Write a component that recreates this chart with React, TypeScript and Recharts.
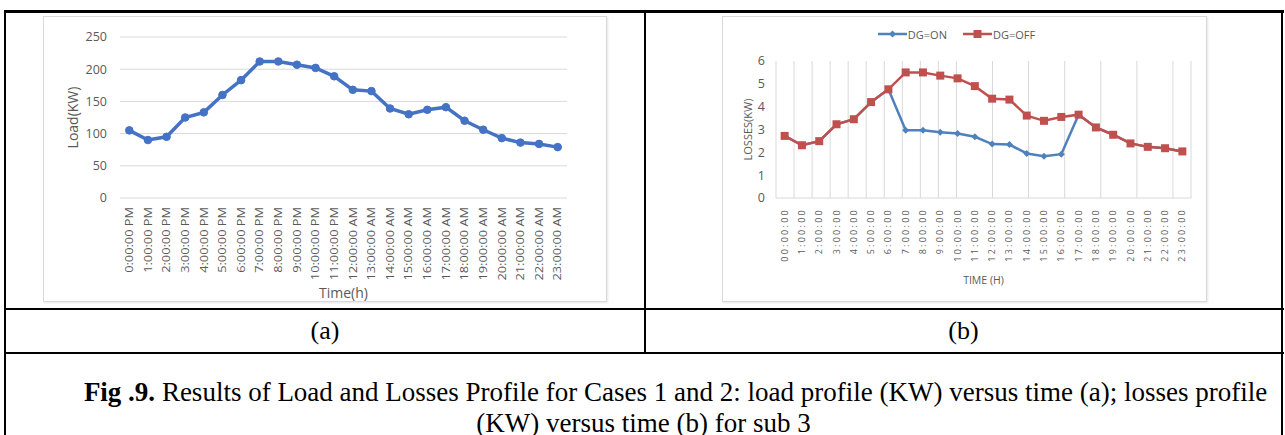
import React from 'react'
import { LineChart, Line, XAxis, YAxis, CartesianGrid, Legend } from 'recharts'

// (a) load profile
const loadTimes = [
  '0:00:00 PM', '1:00:00 PM', '2:00:00 PM', '3:00:00 PM', '4:00:00 PM', '5:00:00 PM',
  '6:00:00 PM', '7:00:00 PM', '8:00:00 PM', '9:00:00 PM', '10:00:00 PM', '11:00:00 PM',
  '12:00:00 AM', '13:00:00 AM', '14:00:00 AM', '15:00:00 AM', '16:00:00 AM', '17:00:00 AM',
  '18:00:00 AM', '19:00:00 AM', '20:00:00 AM', '21:00:00 AM', '22:00:00 AM', '23:00:00 AM',
]
const loadKw = [105, 90, 95, 125, 133, 160, 183, 212, 212, 207, 202, 189, 168, 166, 139, 130, 137, 141, 120, 106, 93, 86, 84, 79]
const loadTicks = [0, 50, 100, 150, 200, 250]

// (b) losses profile
const lossTimes = [
  '00:00:00', '1:00:00', '2:00:00', '3:00:00', '4:00:00', '5:00:00', '6:00:00', '7:00:00',
  '8:00:00', '9:00:00', '10:00:00', '11:00:00', '12:00:00', '13:00:00', '14:00:00', '15:00:00',
  '16:00:00', '17:00:00', '18:00:00', '19:00:00', '20:00:00', '21:00:00', '22:00:00', '23:00:00',
]
const lossDgOn = [2.72, 2.31, 2.49, 3.23, 3.45, 4.2, 4.76, 2.97, 2.97, 2.88, 2.82, 2.68, 2.36, 2.34, 1.95, 1.83, 1.92, 3.65, 3.09, 2.77, 2.39, 2.24, 2.18, 2.04]
const lossDgOff = [2.72, 2.31, 2.49, 3.23, 3.45, 4.2, 4.76, 5.5, 5.5, 5.36, 5.24, 4.9, 4.35, 4.31, 3.61, 3.38, 3.55, 3.65, 3.09, 2.77, 2.39, 2.24, 2.18, 2.04]
const lossTicks = [0, 1, 2, 3, 4, 5, 6]
const seriesNames = ['DG=ON', 'DG=OFF']
const hourBounds = Array.from({ length: 25 }, (_, i) => i)

const loadData = loadTimes.map((t, i) => ({ time: t, load: loadKw[i] }))
const lossData = lossTimes.map((t, i) => ({ time: t, on: lossDgOn[i], off: lossDgOff[i] }))

const SANS = '"Open Sans", sans-serif'
const SERIF = '"Liberation Serif", "Times New Roman", serif'
const GREY = '#595959'
const GRID = '#d9d9d9'
const BLUE_A = '#4472C4'
const BLUE = '#4F81BD'
const RED = '#C0504D'

function RotTick({ x, y, payload, size, stretch, spacing, dy }: any) {
  return (
    <text
      transform={`translate(${x + size * 0.36},${y + dy}) rotate(-90) scale(${stretch},1)`}
      textAnchor="end"
      fontSize={size}
      fontFamily={SANS}
      letterSpacing={spacing}
      fill={GREY}
    >
      {payload.value}
    </text>
  )
}

function SquareDot(p: any) {
  if (p.cx == null || p.cy == null) return <g key={p.index} />
  return <rect key={p.index} x={p.cx - 4} y={p.cy - 4} width={8} height={8} fill={RED} />
}

function DiamondDot(p: any) {
  if (p.cx == null || p.cy == null) return <g key={p.index} />
  const { cx, cy } = p
  return <path key={p.index} d={`M${cx},${cy - 3.5}L${cx + 3.5},${cy}L${cx},${cy + 3.5}L${cx - 3.5},${cy}Z`} fill={BLUE} />
}

// keep the series order (recharts sorts legend items by name)
function LossLegend({ payload }: any) {
  const items = [...(payload || [])].sort((a: any, b: any) => seriesNames.indexOf(a.value) - seriesNames.indexOf(b.value))
  return (
    <div style={{ display: 'flex', justifyContent: 'center', alignItems: 'center', height: 20, gap: 16 }}>
      {items.map((e: any) => (
        <div key={e.value} style={{ display: 'flex', alignItems: 'center' }}>
          <svg width={29} height={10}>
            <line x1={0} y1={5} x2={29} y2={5} stroke={e.color} strokeWidth={2.5} />
            {e.value === 'DG=OFF'
              ? <rect x={10.5} y={1} width={8} height={8} fill={RED} />
              : <path d="M14.5,1.5L18,5L14.5,8.5L11,5Z" fill={BLUE} />}
          </svg>
          <span style={{ fontFamily: SANS, fontSize: 11, color: GREY, marginLeft: 1 }}>{e.value}</span>
        </div>
      ))}
    </div>
  )
}

function LoadChart() {
  return (
    <div style={{ position: 'absolute', left: 43, top: 16, width: 564, height: 286 }}>
      <LineChart width={564} height={286} data={loadData} margin={{ top: 21, right: 40, bottom: 0, left: 0 }}>
        <CartesianGrid vertical={false} stroke={GRID} />
        <XAxis
          dataKey="time"
          scale="band"
          interval={0}
          axisLine={false}
          tickLine={false}
          tickSize={0}
          tickMargin={0}
          height={104}
          tick={<RotTick size={10.5} stretch={1.22} spacing={0} dy={9} />}
          label={{ value: 'Time(h)', position: 'insideBottom', offset: 4, fill: GREY, fontSize: 14, fontFamily: SANS }}
        />
        <YAxis
          domain={[0, 250]}
          ticks={loadTicks}
          width={77}
          axisLine={false}
          tickLine={false}
          tickSize={0}
          tickMargin={13}
          tick={{ fill: GREY, fontSize: 12.5, fontFamily: SANS }}
          label={{ value: 'Load(KW)', angle: -90, position: 'insideLeft', offset: 30, fill: GREY, fontSize: 14, fontFamily: SANS, style: { textAnchor: 'middle' } }}
        />
        <Line
          dataKey="load"
          stroke={BLUE_A}
          strokeWidth={3.5}
          dot={{ r: 3.8, fill: BLUE_A, stroke: BLUE_A, strokeWidth: 1 }}
          isAnimationActive={false}
        />
      </LineChart>
      <div style={{ position: 'absolute', inset: 0, border: '1px solid #d9d9d9', boxShadow: '1px 1px 2px #e6e6e6' }} />
    </div>
  )
}

function LossChart() {
  return (
    <div style={{ position: 'absolute', left: 722, top: 16, width: 485, height: 286 }}>
      <LineChart width={485} height={286} data={lossData} margin={{ top: 25, right: 16, bottom: 0, left: 0 }}>
        <CartesianGrid xAxisId="grid" horizontal={false} vertical stroke={GRID} />
        <XAxis xAxisId="grid" type="number" domain={[0, 24]} ticks={hourBounds} allowDataOverflow hide />
        <XAxis
          dataKey="time"
          scale="band"
          interval={0}
          axisLine={{ stroke: GRID }}
          tickLine={false}
          tickSize={0}
          tickMargin={0}
          height={104}
          tick={<RotTick size={8.5} stretch={1.05} spacing={2.2} dy={10} />}
          label={{ value: 'TIME (H)', position: 'insideBottom', offset: 18, fill: GREY, fontSize: 10.5, fontFamily: SANS }}
        />
        <YAxis
          domain={[0, 6]}
          ticks={lossTicks}
          width={54}
          axisLine={false}
          tickLine={false}
          tickSize={0}
          tickMargin={11}
          tick={{ fill: GREY, fontSize: 12.5, fontFamily: SANS }}
          label={{ value: 'LOSSES(KW)', angle: -90, position: 'insideLeft', offset: 26, fill: GREY, fontSize: 11, fontFamily: SANS, style: { textAnchor: 'middle' } }}
        />
        <Legend verticalAlign="top" height={20} wrapperStyle={{ top: 8 }} content={<LossLegend />} />
        <Line name="DG=ON" dataKey="on" stroke={BLUE} strokeWidth={2.5} dot={<DiamondDot />} isAnimationActive={false} />
        <Line name="DG=OFF" dataKey="off" stroke={RED} strokeWidth={2.5} dot={<SquareDot />} isAnimationActive={false} />
      </LineChart>
      <div style={{ position: 'absolute', inset: 0, border: '1px solid #d9d9d9', boxShadow: '1px 1px 2px #e6e6e6' }} />
    </div>
  )
}

const rule = (s: React.CSSProperties) => <div style={{ position: 'absolute', background: '#000', ...s }} />

export default function App() {
  return (
    <div style={{ position: 'absolute', left: 0, top: 0, width: 1285, height: 435, background: '#fff', overflow: 'hidden' }}>
      <LoadChart />
      <LossChart />
      {rule({ left: 4, top: 10, width: 1280, height: 3 })}
      {rule({ left: 4, top: 10, width: 2, height: 425 })}
      {rule({ left: 1281, top: 10, width: 2, height: 425 })}
      {rule({ left: 644, top: 10, width: 2, height: 344 })}
      {rule({ left: 4, top: 308, width: 1280, height: 2 })}
      {rule({ left: 4, top: 352, width: 1280, height: 2 })}
      <div style={{ position: 'absolute', left: 6, top: 315, width: 638, textAlign: 'center', fontFamily: SERIF, fontSize: 26, lineHeight: '32px' }}>(a)</div>
      <div style={{ position: 'absolute', left: 646, top: 315, width: 635, textAlign: 'center', fontFamily: SERIF, fontSize: 26, lineHeight: '32px' }}>(b)</div>
      <div style={{ position: 'absolute', left: 6, top: 377, width: 1275, fontFamily: SERIF, fontSize: 27, lineHeight: '31px', textAlign: 'center', whiteSpace: 'nowrap' }}>
        <div style={{ paddingLeft: 64 }}>
          <b>Fig .9.</b> Results of Load and Losses Profile for Cases 1 and 2: load profile (KW) versus time (a); losses profile
        </div>
        <div>(KW) versus time (b) for sub 3</div>
      </div>
    </div>
  )
}
